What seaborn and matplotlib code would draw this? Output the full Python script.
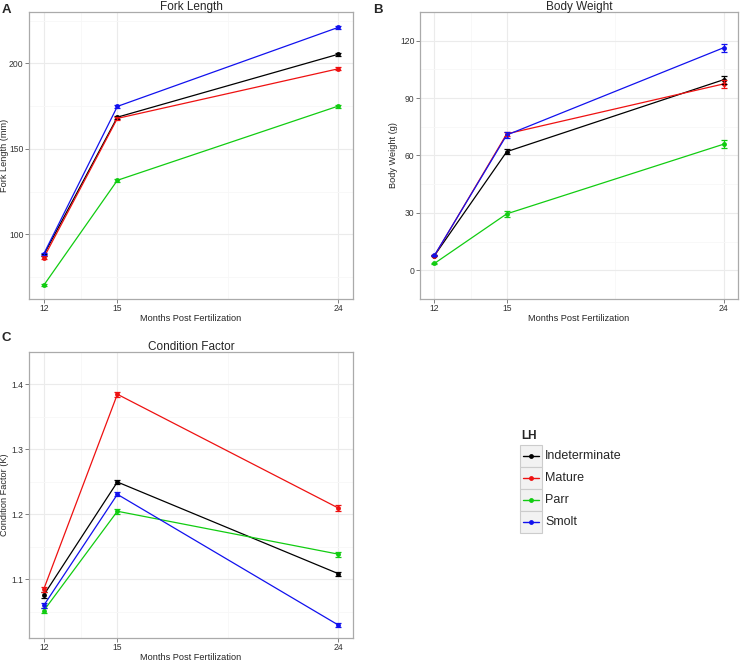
import pandas as pd
import numpy as np
import matplotlib
matplotlib.use('Agg')
import matplotlib.pyplot as plt
from matplotlib.lines import Line2D
from matplotlib.patches import Rectangle
import seaborn as sns

sns.set_style('white')
plt.rcParams['font.family'] = ['Liberation Sans', 'DejaVu Sans']

# 数据
months = [12, 15, 24]
groups = ['Indeterminate', 'Mature', 'Parr', 'Smolt']
colors = ['#000000', '#EE1111', '#11CC11', '#1111EE']

fork_mean = {
    'Indeterminate': [88.0, 168.5, 205.3],
    'Mature': [86.3, 167.8, 196.8],
    'Parr': [70.2, 131.6, 175.0],
    'Smolt': [88.5, 174.8, 221.0],
}
fork_se = {
    'Indeterminate': [0.8, 0.9, 0.9],
    'Mature': [0.9, 0.8, 0.9],
    'Parr': [0.6, 0.8, 0.9],
    'Smolt': [0.7, 0.9, 0.9],
}
weight_mean = {
    'Indeterminate': [7.7, 62.0, 99.6],
    'Mature': [7.6, 71.3, 97.4],
    'Parr': [3.6, 29.5, 65.9],
    'Smolt': [7.8, 70.7, 116.3],
}
weight_se = {
    'Indeterminate': [0.3, 1.2, 2.0],
    'Mature': [0.3, 1.2, 2.0],
    'Parr': [0.2, 1.4, 2.2],
    'Smolt': [0.3, 1.4, 2.0],
}
cond_mean = {
    'Indeterminate': [1.076, 1.250, 1.109],
    'Mature': [1.085, 1.385, 1.210],
    'Parr': [1.052, 1.205, 1.139],
    'Smolt': [1.060, 1.231, 1.030],
}
cond_se = {
    'Indeterminate': [0.004, 0.003, 0.003],
    'Mature': [0.004, 0.004, 0.004],
    'Parr': [0.004, 0.004, 0.004],
    'Smolt': [0.004, 0.003, 0.003],
}


def to_df(mean, se):
    rows = []
    for g in groups:
        for m, v, e in zip(months, mean[g], se[g]):
            rows.append({'Months': m, 'LH': g, 'value': v, 'se': e})
    return pd.DataFrame(rows)


def style_ax(ax, yticks, ylim):
    ax.set_xlim(11.4, 24.6)
    ax.set_ylim(*ylim)
    ax.set_xticks(months)
    ax.set_xticks([13.5, 19.5], minor=True)
    ax.set_yticks(yticks)
    step = yticks[1] - yticks[0]
    ax.set_yticks([t + step / 2 for t in [yticks[0] - step] + yticks], minor=True)
    ax.grid(True, which='major', color='#EBEBEB', lw=0.8)
    ax.grid(True, which='minor', color='#F7F7F7', lw=0.6)
    ax.set_axisbelow(True)
    for s in ax.spines.values():
        s.set_color('#AAAAAA')
        s.set_linewidth(0.9)
    ax.tick_params(axis='both', which='major', length=3, width=0.7, color='#7F7F7F',
                   labelsize=6.2, labelcolor='#333333', pad=1, direction='out',
                   bottom=True, left=True)
    ax.tick_params(axis='x', pad=0.5)
    ax.tick_params(which='minor', length=0)
    ax.set_xlabel('Months Post Fertilization', fontsize=6.6, labelpad=0.5)


def draw_panel(ax, mean, se, title, ylabel, yticks, ylim, fmt, ylab_x):
    df = to_df(mean, se)
    sns.lineplot(data=df, x='Months', y='value', hue='LH', hue_order=groups,
                 palette=colors, marker='o', markersize=3.5, markeredgewidth=0,
                 linewidth=0.9, legend=False, ax=ax)
    for g, c in zip(groups, colors):
        sub = df[df['LH'] == g]
        ax.errorbar(sub['Months'], sub['value'], yerr=sub['se'], fmt='none',
                    ecolor=c, elinewidth=0.9, capsize=2.0, capthick=0.9)
    style_ax(ax, yticks, ylim)
    ax.set_yticklabels([fmt.format(t) for t in yticks])
    ax.set_ylabel(ylabel, fontsize=6.6)
    ax.yaxis.set_label_coords(ylab_x, 0.5)
    ax.set_title(title, fontsize=8.5, pad=1.5)


fig = plt.figure(figsize=(7.42, 6.63), dpi=100)
W, H = 742, 663


def add_ax(left, top, right, bottom):
    return fig.add_axes([left / W, 1 - bottom / H, (right - left) / W, (bottom - top) / H])


axA = add_ax(29, 12, 353, 299)
axB = add_ax(420, 12, 738, 299)
axC = add_ax(29, 352, 353, 638)

draw_panel(axA, fork_mean, fork_se, 'Fork Length', 'Fork Length (mm)',
           [100, 150, 200], (62.2, 230), '{:.0f}', -0.062)
draw_panel(axB, weight_mean, weight_se, 'Body Weight', 'Body Weight (g)',
           [0, 30, 60, 90, 120], (-5.6, 123.8), '{:.0f}', -0.07)
draw_panel(axC, cond_mean, cond_se, 'Condition Factor', 'Condition Factor (K)',
           [1.1, 1.2, 1.3, 1.4], (1.010, 1.407), '{:.1f}', -0.062)

# 面板字母
for lab, x, y in [('A', 2, 10), ('B', 373, 10), ('C', 2, 338)]:
    fig.text(x / W, 1 - y / H, lab, fontsize=9.5, fontweight='bold', va='center', ha='left')

# 图例
fig.text(521 / W, 1 - 436 / H, 'LH', fontsize=8.5, fontweight='bold', va='center', ha='left')
key_top = 445
key_h = 22
for i, (g, c) in enumerate(zip(groups, colors)):
    yt = key_top + i * key_h
    fig.patches.append(Rectangle((520 / W, 1 - (yt + key_h) / H), 22 / W, key_h / H,
                                 transform=fig.transFigure, facecolor='#F2F2F2',
                                 edgecolor='#CCCCCC', lw=0.8))
    yc = 1 - (yt + key_h / 2) / H
    fig.add_artist(Line2D([523 / W, 539 / W], [yc, yc], color=c, lw=1.0,
                          transform=fig.transFigure))
    fig.add_artist(Line2D([531 / W], [yc], color=c, marker='o', markersize=3.5,
                          markeredgewidth=0, transform=fig.transFigure))
    fig.text(545 / W, yc, g, fontsize=9, va='center', ha='left')

fig.savefig('out.png', dpi=100)
